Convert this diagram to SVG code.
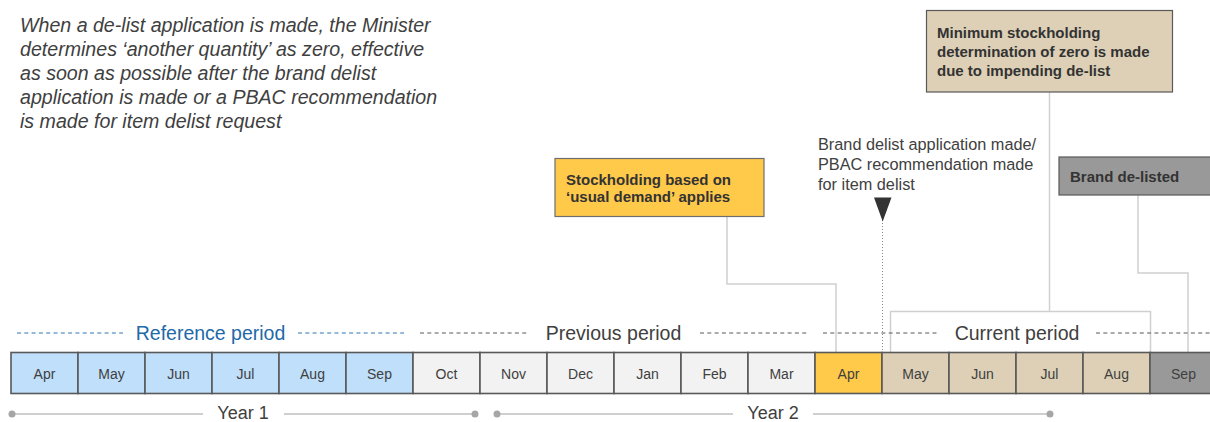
<svg xmlns="http://www.w3.org/2000/svg" width="1210" height="422" viewBox="0 0 1210 422">
  <style>
    .bg { fill: #ffffff; }
    .month rect { stroke: #595959; stroke-width: 1.6; }
    .month text { font-family: "Liberation Sans", Arial, sans-serif; font-size: 14px; fill: #404040; text-anchor: middle; }
    .ref rect { fill: #bfdffb; }
    .prev rect { fill: #f2f2f2; }
    .now rect { fill: #ffc94a; }
    .cur rect { fill: #ddd0b6; }
    .after rect { fill: #999999; }
    .period { font-family: "Liberation Sans", Arial, sans-serif; font-size: 19.5px; fill: #404040; text-anchor: middle; }
    .period.blue { fill: #1f6aa8; }
    .dash { stroke: #595959; stroke-width: 1; stroke-dasharray: 4 3.3; fill: none; }
    .dash.blue { stroke: #2e75b6; }
    .year { font-family: "Liberation Sans", Arial, sans-serif; font-size: 18px; fill: #404040; text-anchor: middle; }
    .yline { stroke: #bfbfbf; stroke-width: 1.6; }
    .ydot { fill: #a6a6a6; }
    .note { font-family: "Liberation Sans", Arial, sans-serif; font-size: 19.6px; font-style: italic; fill: #404040; }
    .plain { font-family: "Liberation Sans", Arial, sans-serif; font-size: 16.3px; fill: #404040; }
    .boxtxt { font-family: "Liberation Sans", Arial, sans-serif; font-size: 15px; font-weight: bold; fill: #333333; }
    .conn { stroke: #d0d0d0; stroke-width: 1.5; fill: none; }
    .dot { stroke: #8c8c8c; stroke-width: 1; stroke-dasharray: 1 2; fill: none; }
  </style>

  <rect class="bg" x="0" y="0" width="1210" height="422"/>

  <!-- Explanatory note -->
  <text class="note" x="20">
    <tspan x="20" y="32">When a de-list application is made, the Minister</tspan>
    <tspan x="20" y="56">determines ‘another quantity’ as zero, effective</tspan>
    <tspan x="20" y="80">as soon as possible after the brand delist</tspan>
    <tspan x="20" y="104">application is made or a PBAC recommendation</tspan>
    <tspan x="20" y="128">is made for item delist request</tspan>
  </text>

  <!-- Connectors -->
  <g id="connectors">
    <polyline class="conn" points="727,217 727,284 836,284 836,352"/>
    <line class="conn" x1="1049.5" y1="92" x2="1049.5" y2="311.5"/>
    <polyline class="conn" points="890.5,352 890.5,311.5 1150.5,311.5 1150.5,352"/>
    <polyline class="conn" points="1138,195 1138,273 1188,273 1188,352"/>
    <line class="dot" x1="882.5" y1="220" x2="882.5" y2="352"/>
    <polygon points="874,197.5 891.5,197.5 882.7,221.5" fill="#333333"/>
  </g>

  <!-- Period labels -->
  <g id="periods">
    <line class="dash blue" x1="17" y1="333" x2="123" y2="333"/>
    <text class="period blue" x="210.5" y="339.5">Reference period</text>
    <line class="dash blue" x1="298" y1="333" x2="404" y2="333"/>

    <line class="dash" x1="420" y1="333" x2="528" y2="333"/>
    <text class="period" x="613.5" y="339.5">Previous period</text>
    <line class="dash" x1="700" y1="333" x2="807" y2="333"/>

    <line class="dash" x1="823" y1="333" x2="939" y2="333"/>
    <rect x="941" y="321" width="152" height="26" fill="#ffffff"/>
    <text class="period" x="1017" y="339.5">Current period</text>
    <line class="dash" x1="1096" y1="333" x2="1210" y2="333"/>
  </g>

  <!-- Month cells -->
  <g id="months">
    <g class="month ref" id="m-apr1"><rect x="11" y="352.5" width="67" height="41"/><text x="44.5" y="379">Apr</text></g>
    <g class="month ref" id="m-may1"><rect x="78" y="352.5" width="67" height="41"/><text x="111.5" y="379">May</text></g>
    <g class="month ref" id="m-jun1"><rect x="145" y="352.5" width="67" height="41"/><text x="178.5" y="379">Jun</text></g>
    <g class="month ref" id="m-jul1"><rect x="212" y="352.5" width="67" height="41"/><text x="245.5" y="379">Jul</text></g>
    <g class="month ref" id="m-aug1"><rect x="279" y="352.5" width="67" height="41"/><text x="312.5" y="379">Aug</text></g>
    <g class="month ref" id="m-sep1"><rect x="346" y="352.5" width="67" height="41"/><text x="379.5" y="379">Sep</text></g>
    <g class="month prev" id="m-oct"><rect x="413" y="352.5" width="67" height="41"/><text x="446.5" y="379">Oct</text></g>
    <g class="month prev" id="m-nov"><rect x="480" y="352.5" width="67" height="41"/><text x="513.5" y="379">Nov</text></g>
    <g class="month prev" id="m-dec"><rect x="547" y="352.5" width="67" height="41"/><text x="580.5" y="379">Dec</text></g>
    <g class="month prev" id="m-jan"><rect x="614" y="352.5" width="67" height="41"/><text x="647.5" y="379">Jan</text></g>
    <g class="month prev" id="m-feb"><rect x="681" y="352.5" width="67" height="41"/><text x="714.5" y="379">Feb</text></g>
    <g class="month prev" id="m-mar"><rect x="748" y="352.5" width="67" height="41"/><text x="781.5" y="379">Mar</text></g>
    <g class="month now" id="m-apr2"><rect x="815" y="352.5" width="67" height="41"/><text x="848.5" y="379">Apr</text></g>
    <g class="month cur" id="m-may2"><rect x="882" y="352.5" width="67" height="41"/><text x="915.5" y="379">May</text></g>
    <g class="month cur" id="m-jun2"><rect x="949" y="352.5" width="67" height="41"/><text x="982.5" y="379">Jun</text></g>
    <g class="month cur" id="m-jul2"><rect x="1016" y="352.5" width="67" height="41"/><text x="1049.5" y="379">Jul</text></g>
    <g class="month cur" id="m-aug2"><rect x="1083" y="352.5" width="67" height="41"/><text x="1116.5" y="379">Aug</text></g>
    <g class="month after" id="m-sep2"><rect x="1150" y="352.5" width="67" height="41"/><text x="1183.5" y="379">Sep</text></g>
  </g>

  <!-- Year spans -->
  <g id="year1">
    <line class="yline" x1="12" y1="414" x2="203" y2="414"/>
    <text class="year" x="243" y="418.5">Year 1</text>
    <line class="yline" x1="284" y1="414" x2="475" y2="414"/>
    <circle class="ydot" cx="12" cy="414" r="3.5"/>
    <circle class="ydot" cx="475" cy="414" r="3.5"/>
  </g>
  <g id="year2">
    <line class="yline" x1="497" y1="414" x2="733" y2="414"/>
    <text class="year" x="773" y="418.5">Year 2</text>
    <line class="yline" x1="813" y1="414" x2="1050" y2="414"/>
    <circle class="ydot" cx="497" cy="414" r="3.5"/>
    <circle class="ydot" cx="1050" cy="414" r="3.5"/>
  </g>

  <!-- Event boxes -->
  <g id="usual-demand">
    <rect x="555" y="158.5" width="209" height="58" fill="#ffc94a" stroke="#6e6e6e" stroke-width="1.2"/>
    <text class="boxtxt"><tspan x="566" y="185">Stockholding based on</tspan><tspan x="566" y="202">‘usual demand’ applies</tspan></text>
  </g>

  <g id="delist-application">
    <text class="plain"><tspan x="818" y="150">Brand delist application made/</tspan><tspan x="818" y="170">PBAC recommendation made</tspan><tspan x="818" y="189.5">for item delist</tspan></text>
  </g>

  <g id="zero-determination">
    <rect x="926.5" y="10.5" width="246" height="81.5" fill="#ddd0b6" stroke="#595959" stroke-width="1.2"/>
    <text class="boxtxt"><tspan x="937" y="38">Minimum stockholding</tspan><tspan x="937" y="57">determination of zero is made</tspan><tspan x="937" y="76">due to impending de-list</tspan></text>
  </g>

  <g id="brand-delisted">
    <rect x="1059" y="157" width="160" height="38" fill="#999999" stroke="#595959" stroke-width="1.2"/>
    <text class="boxtxt" x="1070" y="181.5">Brand de-listed</text>
  </g>
</svg>
